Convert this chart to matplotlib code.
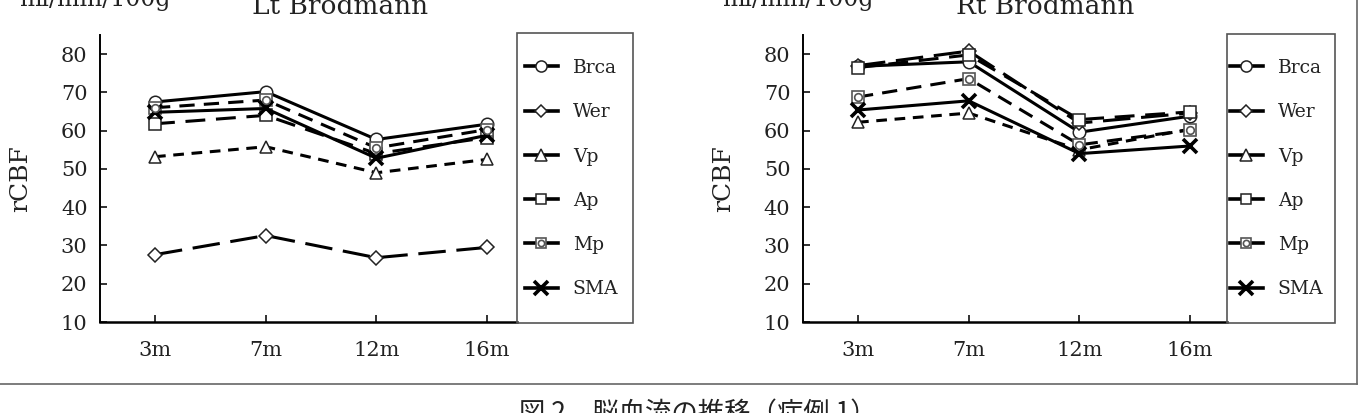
import matplotlib
matplotlib.use("Agg")
import matplotlib.pyplot as plt
from matplotlib.legend_handler import HandlerTuple
from matplotlib.lines import Line2D
from matplotlib.patches import Rectangle

plt.rcParams['font.family'] = ['DejaVu Serif']

# data
months = ['3m', '7m', '12m', '16m']
series_names = ['Brca', 'Wer', 'Vp', 'Ap', 'Mp', 'SMA']

lt_brca = [67.5, 70.2, 57.7, 61.7]
lt_wer = [27.6, 32.6, 26.8, 29.5]
lt_vp = [53.2, 55.8, 49.0, 52.5]
lt_ap = [61.8, 64.0, 54.0, 58.2]
lt_mp = [66.0, 68.0, 55.5, 60.3]
lt_sma = [64.8, 65.8, 52.8, 58.8]

rt_brca = [76.8, 78.0, 59.6, 63.8]
rt_wer = [77.0, 80.8, 62.0, 64.6]
rt_vp = [62.2, 64.6, 55.0, 60.4]
rt_ap = [76.5, 79.8, 62.9, 64.9]
rt_mp = [68.8, 73.6, 56.3, 60.2]
rt_sma = [65.4, 67.8, 54.0, 56.0]

y_ticks = [10, 20, 30, 40, 50, 60, 70, 80]

W, H = 1360, 413


def px_rect(l, t, r, b):
    return [l / W, 1 - b / H, (r - l) / W, (b - t) / H]


styles = {
    'Brca': dict(ls='-', marker='o', ms=9),
    'Wer': dict(ls=(0, (9, 3.5)), marker='D', ms=7.5),
    'Vp': dict(ls=(0, (3.5, 2.5)), marker='^', ms=9),
    'Ap': dict(ls=(0, (6.5, 3.5)), marker='s', ms=8.5),
    'Mp': dict(ls=(0, (5, 3)), marker='s', ms=8.5),
    'SMA': dict(ls='-', marker='x', ms=10),
}


def draw_panel(ax, data, xmax):
    x = list(range(len(months)))
    for name, vals in zip(series_names, data):
        st = styles[name]
        if name == 'SMA':
            ax.plot(x, vals, color='black', lw=2.2, ls=st['ls'],
                    marker='x', ms=st['ms'], mew=2.6, mec='black', zorder=3)
        elif name == 'Mp':
            ax.plot(x, vals, color='black', lw=2.2, ls=st['ls'],
                    marker='s', ms=st['ms'], mfc='white', mec='#555555', mew=1.2, zorder=3)
            ax.plot(x, vals, ls='none', marker='o', ms=5.5,
                    mfc='white', mec='#555555', mew=1.2, zorder=4)
        else:
            ax.plot(x, vals, color='black', lw=2.2, ls=st['ls'],
                    marker=st['marker'], ms=st['ms'], mfc='white',
                    mec='#222222', mew=1.1, zorder=3)
    ax.set_xlim(-0.497, xmax)
    ax.set_ylim(10, 85)
    ax.set_xticks(x)
    ax.set_xticklabels(months)
    ax.set_yticks(y_ticks)
    ax.spines['top'].set_visible(False)
    ax.spines['right'].set_visible(False)
    ax.spines['left'].set_linewidth(1.4)
    ax.spines['bottom'].set_linewidth(1.8)
    ax.tick_params(axis='both', direction='in', length=5, width=1.3, labelsize=15, colors='#222222')
    ax.tick_params(axis='x', pad=14)
    ax.tick_params(axis='y', pad=9)
    ax.set_ylabel('rCBF', fontsize=18, color='#222222')


def legend_handles():
    # small legend keys: thick solid stub with the marker
    hs = []
    for name in series_names:
        st = styles[name]
        if name == 'SMA':
            hs.append(Line2D([], [], color='black', lw=2.6, marker='x', ms=10, mew=2.6))
        elif name == 'Mp':
            a = Line2D([], [], color='black', lw=2.6, marker='s', ms=7.5,
                       mfc='white', mec='#555555', mew=1.2)
            b = Line2D([], [], ls='none', marker='o', ms=4.5,
                       mfc='white', mec='#555555', mew=1.2)
            hs.append((a, b))
        else:
            hs.append(Line2D([], [], color='black', lw=2.6, marker=st['marker'],
                             ms=st['ms'] - 1, mfc='white', mec='#222222', mew=1.1))
    return hs


fig = plt.figure(figsize=(W / 100, H / 100), dpi=100)

ax1 = fig.add_axes(px_rect(100, 35, 517, 322))
draw_panel(ax1, [lt_brca, lt_wer, lt_vp, lt_ap, lt_mp, lt_sma], 3.27)
ax1.yaxis.set_label_coords(-68 / 417, 0.5)

ax2 = fig.add_axes(px_rect(803, 35, 1227, 322))
draw_panel(ax2, [rt_brca, rt_wer, rt_vp, rt_ap, rt_mp, rt_sma], 3.333)
ax2.yaxis.set_label_coords(-68 / 424, 0.5)

# legend boxes
for (l, t, r, b), hx in [((517, 33, 633, 323), 525), ((1227, 34, 1335, 323), 1230)]:
    fig.patches.append(Rectangle((l / W, 1 - b / H), (r - l) / W, (b - t) / H,
                                 transform=fig.transFigure, fill=False, ec='#555555', lw=1.2))
    fig.legend(legend_handles(), series_names, loc='upper left', bbox_to_anchor=(hx / W, 1 - 59 / H),
               frameon=False, borderpad=0, borderaxespad=0, labelspacing=1.4,
               handlelength=1.75, handletextpad=0.8, fontsize=13.5,
               handler_map={tuple: HandlerTuple(ndivide=1)}, labelcolor='#222222')

# titles and units (cut at the top edge like the scan)
fig.text(340 / W, 1 - 14 / H, 'Lt Brodmann', ha='center', va='baseline', fontsize=19, color='#222222')
fig.text(1045 / W, 1 - 14 / H, 'Rt Brodmann', ha='center', va='baseline', fontsize=19, color='#222222')
fig.text(95 / W, 1 - 6 / H, 'ml/min/100g', ha='center', va='baseline', fontsize=17, color='#222222')
fig.text(798 / W, 1 - 6 / H, 'ml/min/100g', ha='center', va='baseline', fontsize=17, color='#222222')

# page frame lines
fig.add_artist(Line2D([0, 1357 / W], [1 - 384 / H, 1 - 384 / H], transform=fig.transFigure,
                      color='#666666', lw=1.2))
fig.add_artist(Line2D([1357 / W, 1357 / W], [1, 1 - 384 / H], transform=fig.transFigure,
                      color='#666666', lw=1.2))

fig.text(698 / W, 1 - 421 / H, '図 2　脳血流の推移（症例 1）', ha='center', va='baseline',
         fontsize=19, color='#222222', family=['Noto Sans CJK JP', 'DejaVu Sans'])

fig.savefig('out.png', dpi=100)
